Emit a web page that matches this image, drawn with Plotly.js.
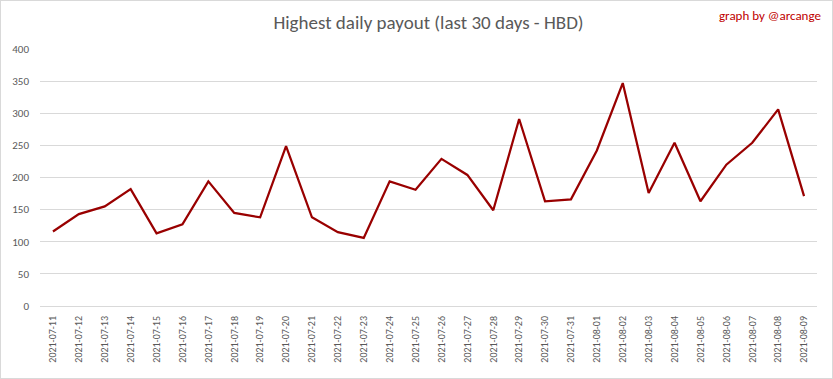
<!DOCTYPE html>
<html>
<head>
<meta charset="utf-8">
<script src="https://cdn.plot.ly/plotly-3.0.1.min.js"></script>
<style>
html,body{margin:0;padding:0;background:#fff;}
#wrap{width:833px;height:379px;box-sizing:border-box;border:1px solid #d9d9d9;}
#chart{width:831px;height:377px;}
</style>
</head>
<body>
<div id="wrap"><div id="chart"></div></div>
<script>
const dates = ["2021-07-11","2021-07-12","2021-07-13","2021-07-14","2021-07-15","2021-07-16","2021-07-17","2021-07-18","2021-07-19","2021-07-20",
"2021-07-21","2021-07-22","2021-07-23","2021-07-24","2021-07-25","2021-07-26","2021-07-27","2021-07-28","2021-07-29","2021-07-30",
"2021-07-31","2021-08-01","2021-08-02","2021-08-03","2021-08-04","2021-08-05","2021-08-06","2021-08-07","2021-08-08","2021-08-09"];
const payout = [116,143,155,182,113,127,194,145,138,249,
138,115,106,194,181,229,204,149,291,163,
166,242,347,176,254,163,220,254,306,171];
const yTicks = [0,50,100,150,200,250,300,350,400];
const chartTitle = "Highest daily payout (last 30 days - HBD)";
const credit = "graph by @arcange";

const font = "Calibri, Carlito, 'Open Sans', 'Liberation Sans', sans-serif";
Plotly.newPlot("chart", [{
  type: "scatter", mode: "lines",
  x: dates, y: payout,
  line: {color: "#990000", width: 2.25},
  hoverinfo: "x+y"
}], {
  width: 831, height: 377,
  margin: {l: 39, r: 15, t: 48, b: 72},
  paper_bgcolor: "#fff", plot_bgcolor: "#fff",
  showlegend: false,
  title: {text: chartTitle, x: 0.5, xref: "paper", xanchor: "center", y: 0.944, yanchor: "middle", yref: "container",
          font: {family: font, size: 19, color: "#595959"}},
  xaxis: {type: "category", range: [-0.5, dates.length - 0.5], tickangle: -90, showgrid: false, zeroline: false,
          showline: true, linecolor: "#d9d9d9", linewidth: 1, ticks: "", ticklabelstandoff: 5,
          tickfont: {family: font, size: 10, color: "#595959"}},
  yaxis: {range: [0, 400], tickvals: yTicks, showgrid: true, gridcolor: "#d9d9d9",
          zeroline: false, showline: false, ticks: "", ticklabelstandoff: 10,
          tickfont: {family: font, size: 11, color: "#595959"}},
  annotations: [{text: credit, xref: "paper", yref: "paper", x: 1.008, y: 1.13,
                 xanchor: "right", yanchor: "middle", showarrow: false,
                 font: {family: font, size: 13, color: "#c00000"}}]
}, {displayModeBar: false, staticPlot: true});
</script>
</body>
</html>
